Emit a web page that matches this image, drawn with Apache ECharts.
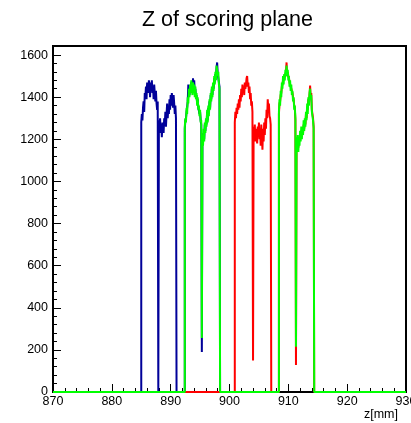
<!DOCTYPE html>
<html>
<head>
<meta charset="utf-8">
<script src="https://cdn.jsdelivr.net/npm/echarts@6/dist/echarts.min.js"></script>
<style>html,body{margin:0;padding:0;background:#fff}#c{width:411px;height:423px}</style>
</head>
<body>
<div id="c"></div>
<script>
// ---- data ----
const titleText = 'Z of scoring plane';
const xName = 'z[mm]';
const xMin = 870, xMax = 930, xStep = 10;
const yMin = 0, yMax = 1643, yStep = 200;
const binWidth = 0.1;
const blueRangeEnd = 900;   // blue histogram is not drawn beyond this z

// blue: plane 1 and overlap under green plane 2
const blueStartA = 885.0;
const blueCountsA = [1280,1320,1290,1350,1380,1330,1420,1400,1450,1390,1470,1440,1420,1480,1450,1400,1470,1440,1480,1420,1450,1390,1460,1420,1380,1430,1370,1340,1380,0,
  1290,1240,1300,1230,1270,1210,1280,1250,1230,1300,1270,1330,1260,1320,1370,1300,1350,1320,1390,1340,1410,1360,1420,1380,1350,1410,1370,1320,1360,1300];
const blueStartB = 892.4;
const blueCountsB = [1250,1290,1300,1330,1350,1380,1460,1420,1410,1450,1440,1470,1460,1430,1490,1440,1480,1420,1440,1400,1410,1370,1390,1350,1350,1320,1330,1290,1270,190,
  1210,1190,1230,1200,1270,1240,1290,1270,1330,1290,1350,1320,1380,1350,1410,1390,1440,1410,1460,1440,1490,1470,1510,1500,1540,1565,1510,1510,1470,1450];

// red: plane 3 and overlap under green plane 4
const redStartA = 900.9;
const redCountsA = [1280,1330,1300,1350,1320,1370,1340,1390,1350,1410,1380,1440,1400,1460,1420,1450,1410,1470,1440,1460,1490,1500,1450,1470,1420,1450,1390,1420,1360,1380,1330,150,
  1260,1210,1270,1190,1250,1220,1180,1260,1210,1280,1200,1250,1170,1270,1220,1150,1250,1190,1280,1220,1300,1250,1340,1300,1390,1340,1370,1310,1300,1270];
const redStartB = 908.4;
const redCountsB = [1320,1370,1380,1410,1420,1450,1460,1480,1480,1500,1500,1510,1520,1565,1500,1520,1500,1490,1470,1470,1450,1450,1430,1420,1400,1390,1360,1350,1290,128,
  1200,1180,1200,1160,1190,1190,1220,1210,1240,1220,1240,1230,1270,1250,1290,1270,1320,1300,1350,1340,1390,1370,1410,1455,1400,1420,1340,1320,1300,1260];

// green: planes 2 and 4
const greenStartA = 892.4;
const greenCountsA = [1260,1300,1280,1350,1320,1400,1370,1440,1400,1460,1420,1480,1440,1410,1470,1430,1460,1400,1450,1390,1420,1360,1400,1340,1360,1310,1340,1280,1290,256,
  1220,1170,1250,1190,1280,1230,1300,1260,1340,1280,1360,1310,1390,1340,1420,1380,1450,1400,1470,1430,1500,1460,1520,1480,1550,1530,1500,1520,1460,1440];
const greenStartB = 908.4;
const greenCountsB = [1330,1390,1360,1430,1400,1470,1440,1500,1460,1510,1480,1530,1500,1550,1510,1530,1480,1500,1450,1480,1430,1460,1410,1430,1380,1400,1340,1360,1300,215,
  1210,1160,1220,1140,1210,1170,1240,1190,1260,1200,1250,1220,1290,1240,1300,1260,1330,1290,1370,1320,1400,1360,1420,1440,1390,1410,1330,1310,1290,1250];

function buildSteps(blocks, endX) {
  const pts = [[xMin, 0]];
  blocks.forEach(b => {
    b.counts.forEach((c, i) => pts.push([+(b.start + i * binWidth).toFixed(3), c]));
    pts.push([+(b.start + b.counts.length * binWidth).toFixed(3), 0]);
  });
  pts.push([endX, 0]);
  return pts;
}

const blueData = buildSteps([{start: blueStartA, counts: blueCountsA}, {start: blueStartB, counts: blueCountsB}], blueRangeEnd);
const redData = buildSteps([{start: redStartA, counts: redCountsA}, {start: redStartB, counts: redCountsB}], xMax);
const greenData = buildSteps([{start: greenStartA, counts: greenCountsA}, {start: greenStartB, counts: greenCountsB}], xMax);

const font = 'Liberation Sans, Arial, Helvetica, sans-serif';
const chart = echarts.init(document.getElementById('c'), null, {renderer: 'canvas'});

function hist(data, color) {
  return {
    type: 'line', step: 'end', data: data, symbol: 'none', showSymbol: false,
    lineStyle: {color: color, width: 2}, itemStyle: {color: color},
    xAxisIndex: 0, yAxisIndex: 0, animation: false, silent: true
  };
}

chart.setOption({
  animation: false,
  backgroundColor: '#fff',
  title: {
    text: titleText, left: 142, top: 9, padding: 0,
    textStyle: {fontFamily: font, fontSize: 21.5, fontWeight: 'normal', color: '#000'}
  },
  grid: {left: 53, right: 5, top: 46, bottom: 31, show: true, borderColor: '#000', borderWidth: 2,
    backgroundColor: 'transparent', outerBoundsMode: 'none', containLabel: false},
  xAxis: {
    type: 'value', min: xMin, max: xMax, interval: xStep,
    name: xName, nameLocation: 'end', nameGap: -8,
    nameTextStyle: {fontFamily: font, fontSize: 12.5, color: '#000', align: 'right', verticalAlign: 'top', padding: [16, 0, 0, 0]},
    axisLine: {show: true, lineStyle: {color: '#000', width: 2}},
    axisTick: {show: true, inside: true, length: 8, lineStyle: {color: '#000', width: 1}},
    minorTick: {show: true, splitNumber: 5, length: 4, lineStyle: {color: '#000', width: 1}},
    axisLabel: {fontFamily: font, fontSize: 12.5, color: '#000', margin: 3},
    splitLine: {show: false}, minorSplitLine: {show: false}
  },
  yAxis: [{
    type: 'value', min: yMin, max: yMax, interval: 40, position: 'left',
    axisLine: {show: true, lineStyle: {color: '#000', width: 2}},
    axisTick: {show: true, inside: true, length: 4, lineStyle: {color: '#000', width: 1}},
    axisLabel: {fontFamily: font, fontSize: 12.5, color: '#000', margin: 5,
      formatter: v => (Math.abs(v % yStep) < 1e-6 ? String(v) : '')},
    splitLine: {show: false}
  }, {
    type: 'value', min: yMin, max: yMax, interval: yStep, position: 'left', offset: 0,
    axisLine: {show: false},
    axisTick: {show: true, inside: true, length: 8, lineStyle: {color: '#000', width: 1}},
    axisLabel: {show: false},
    splitLine: {show: false}
  }],
  series: [
    hist(blueData, '#000099'),
    hist(redData, '#ff0000'),
    hist(greenData, '#00ff00')
  ]
});
</script>
</body>
</html>
